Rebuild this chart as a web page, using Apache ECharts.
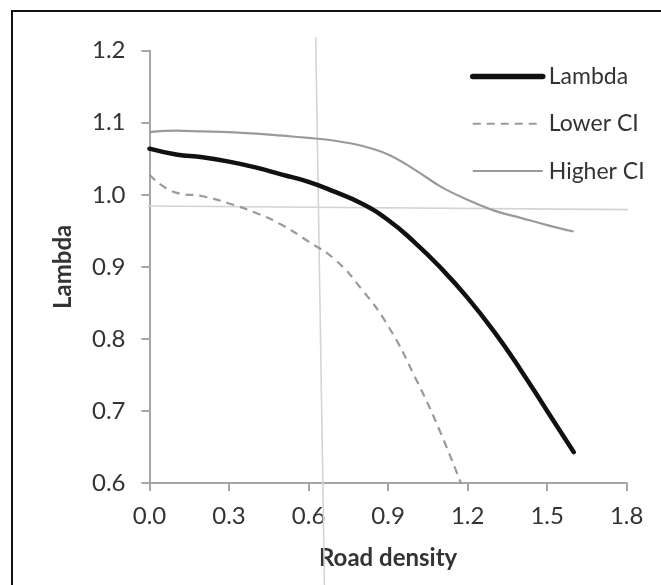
<!DOCTYPE html>
<html>
<head>
<meta charset="utf-8">
<script src="https://cdn.jsdelivr.net/npm/echarts@6/dist/echarts.min.js"></script>
<style>
  html, body { margin: 0; padding: 0; background: #fff; }
  #chart { position: absolute; left: 0; top: 0; width: 661px; height: 585px; }
  #frame {
    position: absolute; left: 11px; top: 10px; width: 660px; height: 590px;
    border-left: 2px solid #111; border-top: 2px solid #111;
    pointer-events: none;
  }
</style>
</head>
<body>
<div id="chart"></div>
<div id="frame"></div>
<script>
// road density steps
var density = [0.0, 0.1, 0.2, 0.3, 0.4, 0.5, 0.6, 0.7, 0.8, 0.9, 1.0, 1.1, 1.2, 1.3, 1.4, 1.5, 1.6];
var lambda = [1.064, 1.056, 1.052, 1.046, 1.038, 1.028, 1.018, 1.004, 0.988, 0.965, 0.934, 0.898, 0.857, 0.810, 0.757, 0.700, 0.643];
var lowerCI = [1.028, 1.003, 0.998, 0.988, 0.975, 0.958, 0.935, 0.910, 0.869, 0.818, 0.748, 0.668, 0.575];
var higherCI = [1.087, 1.089, 1.088, 1.087, 1.085, 1.082, 1.079, 1.075, 1.068, 1.056, 1.035, 1.011, 0.993, 0.978, 0.968, 0.958, 0.949];
var xTicks = [0.0, 0.3, 0.6, 0.9, 1.2, 1.5, 1.8];
var yTicks = [0.6, 0.7, 0.8, 0.9, 1.0, 1.1, 1.2];
// hand drawn reference lines (data units)
var hLine = [[-0.16, 0.985], [1.93, 0.979]];
var vLine = [[0.627, 1.219], [0.660, 0.458]];

var font = "Lato, 'Open Sans', sans-serif";

function pairs(xs, ys) {
  var out = [];
  for (var i = 0; i < ys.length; i++) out.push([xs[i], ys[i]]);
  return out;
}

var chart = echarts.init(document.getElementById("chart"), null, { renderer: "canvas" });

var axisGray = "#a6a6a6";

var option = {
  backgroundColor: "#fff",
  animation: false,
  grid: { left: 149.5, right: 34.3, top: 50.7, bottom: 102 },
  legend: {
    orient: "vertical",
    left: 470,
    top: 65,
    padding: 0,
    itemWidth: 70,
    itemHeight: 24,
    itemGap: 24.3,
    itemStyle: { opacity: 0, borderWidth: 0 },
    data: [
      { name: "Lambda", lineStyle: { width: 5.5, color: "#111" } },
      { name: "Lower CI" },
      { name: "Higher CI" }
    ],
    textStyle: { fontFamily: font, fontSize: 23, color: "#333", padding: [0, 0, 0, 1] }
  },
  xAxis: {
    type: "value",
    min: xTicks[0],
    max: xTicks[xTicks.length - 1],
    interval: 0.3,
    name: "Road density",
    nameLocation: "middle",
    nameGap: 63,
    nameTextStyle: { fontFamily: font, fontSize: 24, fontWeight: "bold", color: "#333", verticalAlign: "top" },
    splitLine: { show: false },
    axisLine: { lineStyle: { color: axisGray, width: 2 } },
    axisTick: { show: true, length: 8, lineStyle: { color: axisGray, width: 2 } },
    axisLabel: {
      margin: 21,
      fontFamily: font,
      fontSize: 24,
      color: "#333",
      formatter: function(v) { return v.toFixed(1); }
    }
  },
  yAxis: {
    type: "value",
    min: yTicks[0],
    max: yTicks[yTicks.length - 1],
    interval: 0.1,
    name: "Lambda",
    nameLocation: "middle",
    nameGap: 74,
    nameTextStyle: { fontFamily: font, fontSize: 24, fontWeight: "bold", color: "#333" },
    splitLine: { show: false },
    axisLine: { show: true, lineStyle: { color: axisGray, width: 2 } },
    axisTick: { show: true, length: 8, lineStyle: { color: axisGray, width: 2 } },
    axisLabel: {
      margin: 24,
      fontFamily: font,
      fontSize: 24,
      color: "#333",
      formatter: function(v) { return v.toFixed(1); }
    }
  },
  series: [
    {
      name: "ref-h",
      type: "line",
      data: hLine,
      clip: false,
      silent: true,
      symbol: "none",
      z: 1,
      lineStyle: { color: "#d4d4d4", width: 1.6 }
    },
    {
      name: "ref-v",
      type: "line",
      data: vLine,
      clip: false,
      silent: true,
      symbol: "none",
      z: 1,
      lineStyle: { color: "#d4d4d4", width: 1.6 }
    },
    {
      name: "Higher CI",
      type: "line",
      data: pairs(density, higherCI),
      smooth: 0.4,
      symbol: "none",
      z: 3,
      lineStyle: { color: "#9a9a9a", width: 2.2 },
      itemStyle: { color: "#9a9a9a" }
    },
    {
      name: "Lower CI",
      type: "line",
      data: pairs(density, lowerCI),
      smooth: 0.5,
      symbol: "none",
      z: 3,
      lineStyle: { color: "#9a9a9a", width: 2.2, type: [8, 6] },
      itemStyle: { color: "#9a9a9a" }
    },
    {
      name: "Lambda",
      type: "line",
      data: pairs(density, lambda),
      smooth: 0.5,
      symbol: "none",
      z: 4,
      lineStyle: { color: "#111", width: 4.5, cap: "round" },
      itemStyle: { color: "#111" }
    }
  ]
};

chart.setOption(option);
</script>
</body>
</html>
